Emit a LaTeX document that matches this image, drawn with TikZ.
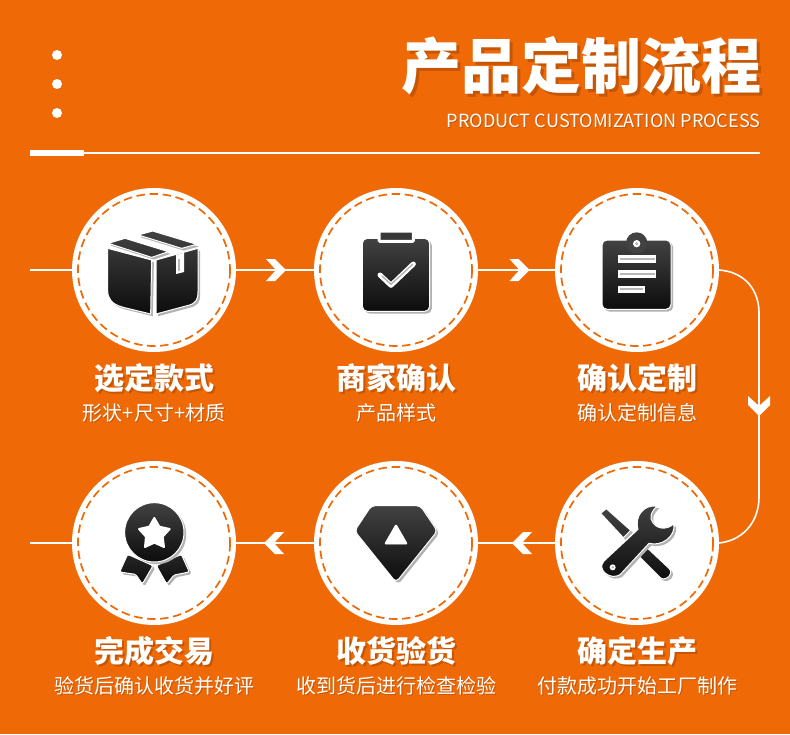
\documentclass[tikz,border=0pt]{standalone}
\usepackage{fontspec}
\setmainfont{Noto Sans CJK SC}
\newfontfamily\heavyfont{Noto Sans CJK SC Black}
\usetikzlibrary{shadows}
\definecolor{bgorange}{RGB}{239,106,7}
\definecolor{shadeorange}{RGB}{196,86,6}
\definecolor{icontop}{RGB}{66,66,66}
\definecolor{iconbot}{RGB}{12,12,12}
\newcommand\shadetext[2]{{\color{shadeorange}\rlap{\kern#1pt\raisebox{-#1pt}{#2}}}#2}
\tikzset{
  link/.style={draw=white,line width=1.6pt},
  disc/.style={circle,fill=white,inner sep=0pt,minimum size=164pt},
  dashring/.style={draw=bgorange,line width=1.7pt,dash pattern=on 8.5pt off 4.6pt},
  icon/.style={top color=icontop,bottom color=iconbot,draw=white,line width=1pt,line join=round,
    general shadow={shadow xshift=2.2pt,shadow yshift=-2.2pt,fill=black!30}},
  iconat/.style 2 args={shift={(#1,#2)},scale=1/3},
  cutout/.style={fill=white,draw=white,line width=.8pt},
  crease/.style={fill=black!28},
  head/.style={text=white,font=\heavyfont\fontsize{30}{30}\selectfont},
  sub/.style={text=white,font=\fontsize{20}{22}\selectfont},
  chev/.pic={\fill[white] (-10,-11) -- (-1,-11) -- (10,0) -- (-1,11) -- (-10,11) -- (0,0) -- cycle;}
}
\begin{document}
\begin{tikzpicture}[x=1pt,y=-1pt]
\useasboundingbox (0,0) rectangle (790,734);
\fill[bgorange] (0,0) rectangle (790,734);
% header
\foreach \y in {55,84,113} {
  \fill[white] (57,\y) circle (5);
}
\node[anchor=east,text=white,font=\heavyfont\fontsize{60}{60}\selectfont] (title) at (765,67) {\shadetext{3}{产品定制流程}};
\node[anchor=east,text=white,font=\fontsize{18.1}{20}\selectfont] (subtitle) at (764,121.5) {\shadetext{1}{PRODUCT CUSTOMIZATION PROCESS}};
\fill[white] (30,150) rectangle (84,156);
\draw[white,line width=1.6pt] (84,153) -- (760,153);
% steps
\foreach \n/\x/\y in {1/154/270,2/396/270,3/637/270,4/637/543,5/396/543,6/154/543} {
  \node[disc] (step\n) at (\x,\y) {};
}
\coordinate (startin) at (30,270);
\coordinate (endout) at (30,543);
\draw[link] (startin) -- (step1);
\draw[link] (step1) -- (step2);
\draw[link] (step2) -- (step3);
\draw[link] (step3.east) .. controls (745,272) and (759,290) .. (759,313) -- (759,497) .. controls (759,520) and (745,540) .. (step4.east);
\draw[link] (step4) -- (step5);
\draw[link] (step5) -- (step6);
\draw[link] (step6) -- (endout);
\foreach \n in {1,...,6} {
  \draw[dashring] (step\n) circle (76);
}
\pic at (276,270) {chev};
\pic at (519.5,270) {chev};
\pic[rotate=-90] at (759,406) {chev};
\pic[rotate=180] at (522,543) {chev};
\pic[rotate=180] at (274,543) {chev};
% box
\begin{scope}[iconat={60}{180}]
\path[icon] (143,205) -- (275,240) -- (272,402) -- (190,382) .. controls (153,372) and (143,355) .. (143,330) -- cycle
  (288,240) -- (414,205) -- (414,335) .. controls (414,360) and (407,370) .. (385,376) -- (288,402) -- cycle
  (145,190) -- (195,175) -- (325,215) -- (275,232) -- cycle
  (235,165) -- (278,153) -- (410,193) -- (365,205) -- cycle;
\fill[white] (348,225) -- (372,218) -- (372,276) -- (348,282) -- cycle;
\fill[black!28] (355,236) rectangle (360,272);
\end{scope}
% clipboard with tick
\begin{scope}[iconat={300}{180}]
\path[icon,rounded corners=5pt] (187,175) rectangle (389,394);
\draw[white,line width=3pt,fill=icontop!85!black,rounded corners=1pt] (237,153) rectangle (340,184);
\draw[white,line width=5pt,line cap=round,line join=round] (240,285) -- (273,316) -- (340,252);
\draw[black!30,line width=1.4pt,line cap=round,line join=round] (246,288) -- (273,313) -- (338,253);
\end{scope}
% clipboard with lines
\begin{scope}[iconat={540}{180}]
\path[icon,rounded corners=5pt] (186,180) rectangle (393,388);
\fill[icontop] (290,189) circle (32);
\fill[white] (290,191) circle (11);
\fill[black!30] (290,191) circle (5);
\foreach \t/\r in {226/348,271/348,317/314} {
  \fill[white] (233,\t) rectangle (\r,\t+23);
  \fill[crease] (240,\t+8) rectangle (\r-4,\t+13);
}
\end{scope}
% tools
\begin{scope}[iconat={540}{380}]
\path[icon] (182,400) -- (199,386) -- (272,451) -- (250,473) -- cycle
  (322,504) -- (388,566) .. controls (402,582) and (380,604) .. (362,594) -- (298,530) -- cycle;
\path[icon] (192,543) -- (294,448) .. controls (283,410) and (310,373) .. (352,378)
  .. controls (332,395) and (327,415) .. (340,430) .. controls (354,448) and (382,450) .. (402,431)
  .. controls (407,470) and (365,500) .. (327,490) -- (240,584) .. controls (213,602) and (168,570) .. (192,543) -- cycle;
\fill[white] (218,562) circle (9);
\fill[black!30] (218,562) circle (4);
\end{scope}
% diamond
\begin{scope}[iconat={300}{455}]
\path[icon,rounded corners=4pt] (214,152) -- (361,152) -- (412,228) -- (288,382) -- (164,228) -- cycle;
\draw[cutout,rounded corners=1pt] (288,208) -- (322,267) -- (254,267) -- cycle;
\end{scope}
% medal
\begin{scope}[iconat={60}{455}]
\path[icon,top color=black!85,bottom color=black!95,rounded corners=1.5pt] (203,298) -- (179,351) -- (227,358) -- (247,387) -- (279,332) -- cycle
  (364,298) -- (388,351) -- (342,360) -- (320,387) -- (289,332) -- cycle;
\path[icon] (283,232) circle (89);
\draw[cutout,line width=2pt,line join=round] (283,189) -- (298,215) -- (329,222) -- (308,245) -- (312,276) -- (283,263) -- (255,276) -- (258,245) -- (237,222) -- (268,215) -- cycle;
\end{scope}
% captions
\foreach \n/\x/\y/\htext/\stext in {
  1/154/270/选定款式/形状+尺寸+材质,
  2/396/270/商家确认/产品样式,
  3/637/270/确认定制/确认定制信息,
  4/637/543/确定生产/付款成功开始工厂制作,
  5/396/543/收货验货/收到货后进行检查检验,
  6/154/543/完成交易/验货后确认收货并好评} {
  \node[head] (head\n) at (\x,\y+109) {\shadetext{2}{\htext}};
  \node[sub] (sub\n) at (\x,\y+143) {\shadetext{1}{\stext}};
}
\end{tikzpicture}
\end{document}
